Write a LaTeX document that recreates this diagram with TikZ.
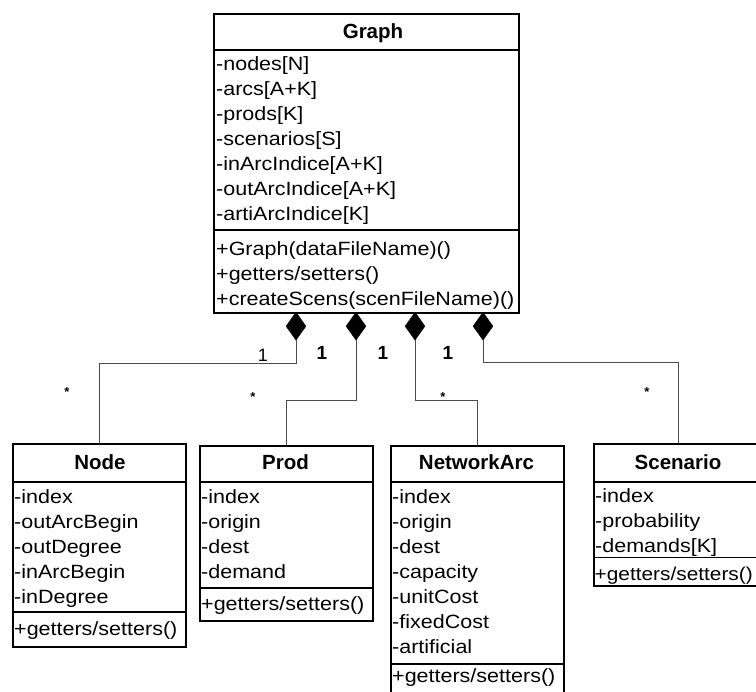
\documentclass[tikz,border=0pt]{standalone}
\usepackage{fontspec}
\setmainfont{Liberation Sans}[FakeStretch=1.12]
\newfontfamily\titlefont{Liberation Sans}
\usetikzlibrary{shapes.geometric}
\begin{document}
\begin{tikzpicture}[x=1pt,y=-1pt,
  box/.style={draw, line width=1.6pt, inner sep=0, anchor=north west},
  sepline/.style={line width=1.6pt},
  ttl/.style={font=\titlefont\fontsize{20.5}{25}\selectfont\bfseries, inner sep=0, anchor=base},
  attr/.style={font=\fontsize{19.2}{25}\selectfont, inner sep=0, anchor=north west, align=left},
  comp/.style={diamond, fill=black, draw=black, minimum width=20pt, minimum height=28pt, inner sep=0, anchor=north},
  conn/.style={draw=black!70, line width=0.9pt},
  mult/.style={font=\titlefont\fontsize{19}{19}\selectfont\bfseries, inner sep=0},
  star/.style={font=\titlefont\fontsize{13}{13}\selectfont\bfseries, inner sep=0}]
\useasboundingbox (0,0) rectangle (756,692);

% Graph
\node[box, minimum width=305pt, minimum height=299pt] (graph) at (213,13) {};
\draw[sepline] (graph.west |- 0,50) -- (graph.east |- 0,50);
\draw[sepline] (graph.west |- 0,230) -- (graph.east |- 0,230);
\node[ttl] (graphT) at (373,39) {Graph};
\node[attr] (graphA) at (216,54) {\rule{0pt}{16pt}-nodes[N]\\-arcs[A+K]\\-prods[K]\\-scenarios[S]\\-inArcIndice[A+K]\\-outArcIndice[A+K]\\-artiArcIndice[K]};
\node[attr] (graphM) at (216,239) {\rule{0pt}{16pt}+Graph(dataFileName)()\\+getters/setters()\\+createScens(scenFileName)()};

% Node
\node[box, minimum width=173pt, minimum height=203pt] (nodebox) at (12,443) {};
\draw[sepline] (nodebox.west |- 0,482) -- (nodebox.east |- 0,482);
\draw[sepline] (nodebox.west |- 0,612) -- (nodebox.east |- 0,612);
\node[ttl] (nodeT) at (100,470) {Node};
\node[attr] (nodeA) at (14,487) {\rule{0pt}{16pt}-index\\-outArcBegin\\-outDegree\\-inArcBegin\\-inDegree};
\node[attr] (nodeM) at (14,619) {\rule{0pt}{16pt}+getters/setters()};

% Prod
\node[box, minimum width=173pt, minimum height=175pt] (prod) at (199,445) {};
\draw[sepline] (prod.west |- 0,482) -- (prod.east |- 0,482);
\draw[sepline] (prod.west |- 0,588) -- (prod.east |- 0,588);
\node[ttl] (prodT) at (285.5,470) {Prod};
\node[attr] (prodA) at (201,487) {\rule{0pt}{16pt}-index\\-origin\\-dest\\-demand};
\node[attr] (prodM) at (201,594) {\rule{0pt}{16pt}+getters/setters()};

% NetworkArc
\node[box, minimum width=173pt, minimum height=247pt] (netarc) at (390,445) {};
\draw[sepline] (netarc.west |- 0,482) -- (netarc.east |- 0,482);
\draw[sepline] (netarc.west |- 0,664) -- (netarc.east |- 0,664);
\node[ttl] (netarcT) at (476.5,470) {NetworkArc};
\node[attr] (netarcA) at (392,487) {\rule{0pt}{16pt}-index\\-origin\\-dest\\-capacity\\-unitCost\\-fixedCost\\-artificial};
\node[attr] (netarcM) at (392,666) {\rule{0pt}{16pt}+getters/setters()};

% Scenario
\node[box, minimum width=170pt, minimum height=142pt] (scen) at (593,443) {};
\draw[sepline] (scen.west |- 0,482) -- (scen.east |- 0,482);
\draw[sepline] (scen.west |- 0,557.5) -- (scen.east |- 0,557.5);
\node[ttl] (scenT) at (678,470) {Scenario};
\node[attr] (scenA) at (595,486.5) {\rule{0pt}{16pt}-index\\-probability\\-demands[K]};
\node[attr, font=\fontsize{18.6}{25}\selectfont] (scenM) at (594.5,564) {\rule{0pt}{16pt}+getters/setters()};

% composition diamonds
\node[comp] (c1) at (296,312) {};
\node[comp] (c2) at (356,312) {};
\node[comp] (c3) at (415,312) {};
\node[comp] (c4) at (483,312) {};

% connectors
\draw[conn] (c1.south) -- (c1.south |- 0,363) -| (nodebox.north);
\draw[conn] (c2.south) -- (c2.south |- 0,400) -| (prod.north);
\draw[conn] (c3.south) -- (c3.south |- 0,400) -| (netarc.north);
\draw[conn] (c4.south) -- (c4.south |- 0,362) -| (scen.north);

% multiplicities
\node[mult, font=\titlefont\fontsize{18}{18}\selectfont] (m1) at (263,355) {1};
\node[mult] (m2) at (322,353) {1};
\node[mult] (m3) at (383,353) {1};
\node[mult] (m4) at (448,353) {1};
\node[star] (s1) at (67,392) {*};
\node[star] (s2) at (253,397) {*};
\node[star] (s3) at (443,397) {*};
\node[star] (s4) at (647,392) {*};
\end{tikzpicture}
\end{document}
